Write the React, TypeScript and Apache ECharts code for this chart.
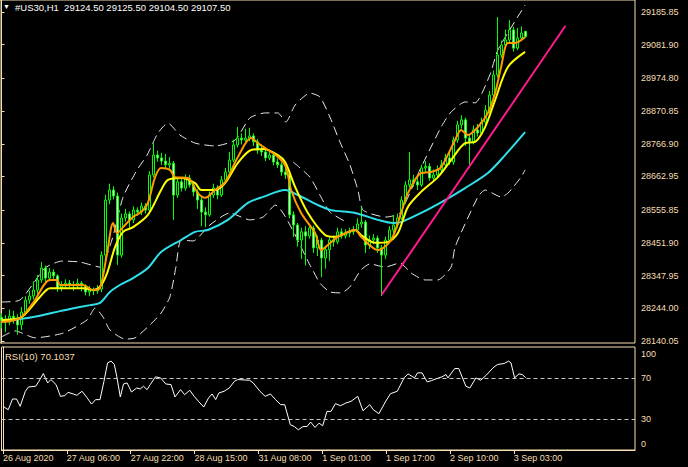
import { useEffect, useRef } from 'react';
import * as echarts from 'echarts';

const symbolName = '#US30,H1';
const rsiName = 'RSI(10)';
const timeLabels = ['26 Aug 2020', '27 Aug 06:00', '27 Aug 22:00', '28 Aug 15:00', '31 Aug 08:00', '1 Sep 01:00', '1 Sep 17:00', '2 Sep 10:00', '3 Sep 03:00'];
const timeLabelBars = [0, 16, 32, 48, 64, 80, 96, 112, 128];
const priceTicks = [28140.05, 28244.0, 28347.95, 28451.9, 28555.85, 28662.95, 28766.9, 28870.85, 28974.8, 29081.9, 29185.85];
const rsiTicks = [0, 30, 70, 100];
const rsiLevels = [70, 30];

const opens = [28215,28207,28200,28219,28213,28191,28232,28270,28283,28302,28334,28372,28340,28359,28347,28308,28315,28324,28318,28315,28324,28315,28296,28302,28299,28305,28413,28588,28620,28601,28413,28531,28544,28525,28556,28550,28569,28556,28668,28731,28722,28712,28700,28705,28604,28646,28626,28658,28636,28614,28588,28550,28541,28604,28626,28604,28652,28677,28715,28763,28785,28779,28785,28792,28773,28747,28741,28722,28731,28709,28700,28677,28668,28541,28509,28461,28487,28474,28499,28436,28461,28404,28430,28461,28455,28487,28474,28483,28487,28493,28512,28518,28445,28461,28467,28436,28413,28461,28493,28509,28531,28588,28636,28652,28646,28636,28690,28695,28658,28668,28684,28700,28722,28709,28779,28827,28843,28785,28773,28811,28801,28836,28874,28922,28986,29049,29081,29097,29129,29071,29103,29124.5];
const highs = [28228,28222,28240,28236,28225,28248,28282,28300,28330,28350,28391,28380,28372,28368,28352,28330,28336,28334,28330,28338,28330,28320,28315,28310,28318,28425,28605,28640,28632,28612,28545,28560,28552,28568,28565,28580,28578,28680,28769,28745,28738,28735,28725,28712,28660,28655,28670,28668,28645,28622,28598,28565,28615,28640,28635,28665,28690,28741,28780,28820,28800,28815,28818,28800,28782,28765,28752,28748,28740,28720,28708,28690,28675,28552,28515,28500,28505,28512,28506,28475,28468,28440,28470,28475,28500,28498,28495,28500,28505,28530,28566,28525,28475,28480,28475,28445,28472,28505,28540,28545,28600,28648,28741,28668,28660,28700,28712,28705,28685,28698,28715,28735,28740,28790,28840,28858,28850,28795,28825,28830,28850,28890,28935,29000,29170,29095,29130,29160,29140,29135,29140,29125.5];
const lows = [28180,28168,28190,28195,28160,28175,28222,28258,28272,28290,28325,28328,28330,28332,28296,28298,28305,28306,28300,28306,28298,28285,28282,28286,28290,28295,28405,28575,28590,28382,28405,28520,28500,28515,28538,28540,28545,28550,28660,28710,28700,28690,28688,28525,28595,28615,28618,28628,28600,28560,28505,28502,28535,28595,28590,28598,28640,28670,28708,28755,28765,28770,28775,28760,28735,28728,28712,28715,28698,28690,28665,28655,28530,28470,28440,28400,28380,28465,28420,28410,28343,28370,28395,28440,28448,28465,28466,28470,28478,28485,28500,28420,28432,28448,28420,28283,28400,28452,28480,28500,28525,28575,28628,28630,28620,28630,28675,28650,28648,28660,28675,28690,28700,28700,28770,28815,28760,28700,28765,28790,28795,28825,28865,28915,28978,29040,29070,29090,29060,29065,29095,29104.5];
const closes = [28207,28200,28219,28213,28191,28232,28270,28283,28302,28334,28372,28340,28359,28347,28308,28315,28324,28318,28315,28324,28315,28296,28302,28299,28305,28413,28588,28620,28601,28413,28531,28544,28525,28556,28550,28569,28556,28668,28731,28722,28712,28700,28705,28604,28646,28626,28658,28636,28614,28588,28550,28541,28604,28626,28604,28652,28677,28715,28763,28785,28779,28785,28792,28773,28747,28741,28722,28731,28709,28700,28677,28668,28541,28509,28461,28487,28474,28499,28436,28461,28404,28430,28461,28455,28487,28474,28483,28487,28493,28512,28518,28445,28461,28467,28436,28413,28461,28493,28509,28531,28588,28636,28652,28646,28636,28690,28695,28658,28668,28684,28700,28722,28709,28779,28827,28843,28785,28773,28811,28801,28836,28874,28922,28986,29049,29081,29097,29129,29071,29103,29119,29107.5];

const orangeBars = [0,4.6,7.9,12.1,13.9,14.6,20.4,22.9,24.6,26.4,27.9,28.9,30.4,32.9,34.9,36.6,38.4,39.9,42.1,43.4,46.6,49.1,50.9,53.4,55.9,59.1,62.4,64.1,69.1,71.1,72.4,74.9,78.4,79.9,81.6,84.1,88.4,89.9,94.1,97.4,99.9,101.6,104.9,107.4,109.9,113.4,114.9,116.6,119.1,121.6,123.4,124.9,126.6,128.4,130.9];
const orangeVals = [28200,28213,28261,28334,28334,28318,28318,28302,28308,28420,28515,28483,28502,28534,28550,28579,28661,28690,28684,28661,28658,28610,28595,28620,28645,28725,28785,28769,28725,28693,28620,28547,28483,28429,28445,28471,28493,28471,28429,28461,28547,28610,28674,28677,28693,28779,28811,28795,28820,28865,28928,29011,29087,29087,29106];
const yellowBars = [0,4.6,9.6,12.1,14.6,20.4,22.9,24.6,26.4,28.4,30.4,32.9,36.6,39.9,41.6,44.9,48.4,49.9,53.4,55.9,59.1,62.4,65.4,69.1,70.9,73.4,76.6,80.9,83.4,88.4,89.9,93.4,96.6,99.1,101.6,104.9,109.1,112.4,115.9,118.4,120.9,123.4,126.6,130.9];
const yellowVals = [28207,28213,28280,28308,28308,28308,28302,28312,28356,28439,28487,28502,28541,28620,28652,28658,28642,28620,28620,28642,28706,28747,28750,28731,28709,28630,28547,28477,28471,28493,28477,28452,28455,28483,28566,28614,28661,28715,28769,28773,28820,28906,29011,29059];
const cyanBars = [0,4.6,9.6,14.6,17.1,22.1,24.6,27.1,29.6,32.9,36.6,39.9,44.9,48.4,51.6,56.6,61.6,65.4,70.9,74.1,79.1,82.4,88.4,94.1,97.9,99.9,104.9,110.9,115.9,121.6,125.9,130.9];
const cyanVals = [28207,28210,28220,28235,28242,28254,28261,28296,28318,28340,28372,28423,28461,28487,28493,28525,28579,28598,28620,28604,28572,28556,28547,28525,28515,28518,28547,28588,28626,28674,28731,28804];

const upperBandBars = [0,4.6,10.9,15.1,19.6,24.6,27.6,30.4,33.9,36.4,39.1,41.6,44.6,48.4,53.4,58.4,62.1,65.9,69.1,71.1,73.4,77.1,79.6,82.1,84.6,87.1,89.1,90.4,96.1,99.6,104.6,109.9,112.4,115.9,118.4,122.1,124.1,130.9];
const upperBandVals = [28264,28270,28372,28394,28391,28375,28461,28598,28684,28731,28801,28833,28795,28769,28760,28779,28849,28865,28865,28836,28890,28928,28916,28852,28773,28700,28620,28556,28534,28547,28684,28820,28868,28900,28897,28986,29065,29208];
const lowerBandBars = [0,3.4,8.4,15.4,21.4,23.4,25.4,27.1,30.9,33.4,37.1,39.9,42.1,43.6,44.9,47.9,52.1,57.1,62.1,65.4,68.4,77.4,79.6,82.1,84.9,87.1,89.9,92.1,95.9,99.6,102.4,105.9,109.1,112.4,113.4,119.1,120.9,124.9,126.6,129.9,130.9];
const lowerBandVals = [28153,28172,28150,28165,28207,28245,28216,28175,28146,28150,28191,28229,28280,28375,28461,28458,28509,28547,28525,28534,28572,28375,28324,28296,28293,28312,28366,28385,28375,28388,28356,28334,28334,28375,28439,28598,28620,28598,28610,28661,28684];
const midBandBars = [72.9, 77.1, 79.6, 82.1, 86.6];
const midBandVals = [28709, 28661, 28604, 28550, 28515];

const trendBars = [95, 141];
const trendVals = [28286, 29142];

const rsiBars = [0,1.3,2.4,3.4,4.3,5.6,6.4,8.2,9.0,10.1,11.2,12.0,13.3,14.4,15.5,16.3,17.6,18.5,19.8,21.0,22.2,23.2,24.3,25.3,26.2,27.1,27.9,28.5,29.4,30.2,31.1,32.2,33.5,34.4,35.2,36.1,36.9,38.2,39.5,40.8,42.1,43.1,44.5,45.5,46.8,47.9,49.0,50.3,51.5,52.4,53.3,54.1,55.4,56.7,58.0,58.8,61.8,62.7,64.4,65.7,67.0,68.3,69.6,70.6,72.0,73.0,74.0,75.2,76.2,77.1,78.2,79.2,80.1,81.2,82.2,83.3,84.6,85.9,87.2,88.9,90.2,91.9,92.8,94.2,95.8,97.1,98.8,100.5,101.5,103.1,103.9,105.0,106.3,107.4,108.7,110.0,111.0,111.5,113.2,114.2,116.0,117.0,118.5,119.7,121.1,122.8,123.9,125.6,126.7,127.3,128.2,129.3,130.1,131];
const rsiVals = [42.4,39.1,49.5,49.5,42.4,57,61.2,61.9,66.7,74.2,65.1,68.4,63.5,52.1,52.8,56,54.4,53.1,57,51.1,44.6,48.9,48.9,66.7,84.6,86.3,83,71.6,51.5,64.1,65.1,56.3,60.2,59.3,61.9,58.6,63.5,71,70,64.1,63.5,51.5,58.6,53.7,58,52.1,47.2,41.7,50.5,54.4,48.9,55.4,57,60.2,66.7,68.4,67.7,65.1,57,52.1,54.4,48.9,44,44,24.5,22.8,19.6,22.8,22.8,27.1,21.9,26.1,23.5,37.5,37.5,45,43,45.6,47.2,52.1,38.1,44,39.1,35.2,46.6,54.7,57,70,73.9,70,74.9,74.9,66.1,67.4,69.3,71,73.3,70,79.1,79.1,61.9,60.2,70,67.7,72.6,79.8,83,84,86.3,84.6,70,73.9,73.3,70.1037];

const FONT = '"Liberation Sans", Arial, sans-serif';
const AXIS = '#f5deb3';
const X_MIN = -0.375;
const X_MAX = 158.375;

const pairs = (xs: number[], ys: number[]) => xs.map((x, i) => [x, ys[i]]);

export default function App() {
  const ref = useRef<HTMLDivElement>(null);
  useEffect(() => {
    const chart = echarts.init(ref.current!, undefined, { renderer: 'svg' });
    const last = closes.length - 1;
    const candles = opens.map((o, i) => [i, o, closes[i], lows[i], highs[i]]);
    const header = `${symbolName}  ${opens[last].toFixed(2)} ${highs[last].toFixed(2)} ${lows[last].toFixed(2)} ${closes[last].toFixed(2)}`;
    const lineSeries = (name: string, xs: number[], ys: number[], color: string, width: number, dashed = false) => ({
      type: 'line', name, xAxisIndex: 0, yAxisIndex: 0, data: pairs(xs, ys), showSymbol: false, symbol: 'none',
      smooth: dashed ? 0.2 : 0.3, z: dashed ? 2 : 4, silent: true,
      lineStyle: { color, width, type: dashed ? [9, 5] : 'solid' },
    });
    const labelStyle = { color: AXIS, fontSize: 9, fontFamily: FONT };
    chart.setOption({
      animation: false,
      backgroundColor: '#000',
      grid: [
        { left: 0, top: 0, width: 635, height: 343, show: true, borderColor: AXIS, borderWidth: 1 },
        { left: 0, top: 347, width: 635, height: 103, show: true, borderColor: AXIS, borderWidth: 1 },
      ],
      xAxis: [
        { type: 'value', gridIndex: 0, min: X_MIN, max: X_MAX, show: false },
        {
          type: 'value', gridIndex: 1, min: X_MIN, max: X_MAX, position: 'bottom',
          axisLine: { show: true, lineStyle: { color: AXIS } },
          axisTick: { show: true, customValues: timeLabelBars, length: 4, lineStyle: { color: AXIS } },
          axisLabel: {
            ...labelStyle, customValues: timeLabelBars, align: 'left', margin: 3,
            formatter: (v: number) => timeLabels[timeLabelBars.indexOf(Math.round(v))] ?? '',
          },
          splitLine: { show: false },
        },
      ],
      yAxis: [
        {
          type: 'value', gridIndex: 0, position: 'right', min: 28133.6, max: 29224.0,
          axisLine: { show: true, lineStyle: { color: AXIS } },
          axisTick: { show: true, customValues: priceTicks, length: 3, lineStyle: { color: AXIS } },
          axisLabel: { ...labelStyle, customValues: priceTicks, margin: 6, showMinLabel: true, showMaxLabel: true, formatter: (v: number) => v.toFixed(2) },
          splitLine: { show: false },
        },
        {
          type: 'value', gridIndex: 1, position: 'right', min: 0, max: 100,
          axisLine: { show: true, lineStyle: { color: AXIS } },
          axisTick: { show: false },
          axisLabel: {
            ...labelStyle, customValues: rsiTicks, margin: 6, showMinLabel: true, showMaxLabel: true,
            formatter: (v: number) => (v === 100 ? `{t|${v}}` : v === 0 ? `{b|${v}}` : `{m|${v}}`),
            rich: {
              t: { ...labelStyle, padding: [14, 0, 0, 0] },
              b: { ...labelStyle, padding: [0, 0, 12, 0] },
              m: { ...labelStyle },
            },
          },
          splitLine: { show: false },
        },
      ],
      series: [
        lineSeries('upper', upperBandBars, upperBandVals, '#e8e8e8', 1, true),
        lineSeries('lower', lowerBandBars, lowerBandVals, '#e8e8e8', 1, true),
        lineSeries('mid', midBandBars, midBandVals, '#e8e8e8', 1, true),
        {
          type: 'candlestick', xAxisIndex: 0, yAxisIndex: 0, data: candles, encode: { x: 0, y: [1, 2, 3, 4] },
          barWidth: 3, z: 3, silent: true,
          itemStyle: { color: '#000', color0: '#eaffea', borderColor: '#00ff00', borderColor0: '#00ff00', borderWidth: 1 },
          markLine: {
            silent: true, symbol: 'none', data: [{ yAxis: closes[last] }],
            lineStyle: { opacity: 0 },
            label: {
              position: 'end', distance: 2, formatter: closes[last].toFixed(2), color: '#000', backgroundColor: '#f7dfb2',
              fontSize: 9, fontFamily: FONT, padding: [2, 2, 1, 2],
            },
          },
        },
        lineSeries('cyan', cyanBars, cyanVals, '#2fe0ea', 2),
        lineSeries('yellow', yellowBars, yellowVals, '#ffff00', 2),
        lineSeries('orange', orangeBars, orangeVals, '#ff9a00', 2),
        {
          type: 'line', xAxisIndex: 0, yAxisIndex: 0, data: pairs(trendBars, trendVals), showSymbol: false, symbol: 'none', z: 5,
          lineStyle: { color: '#ff1a8c', width: 2 }, silent: true,
        },
        {
          type: 'line', xAxisIndex: 1, yAxisIndex: 1, data: pairs(rsiBars, rsiVals), showSymbol: false, symbol: 'none',
          lineStyle: { color: '#ffffff', width: 1 }, silent: true,
          markLine: {
            silent: true, symbol: 'none', label: { show: false },
            lineStyle: { color: '#c8c8c8', type: [4, 3], width: 1 },
            data: rsiLevels.map((v) => ({ yAxis: v })),
          },
        },
      ],
      graphic: [
        { type: 'text', left: 3, top: 3, style: { text: '▼', fill: '#ffffff', fontSize: 7, fontFamily: FONT } },
        { type: 'text', left: 15, top: 2, style: { text: header, fill: '#ffffff', fontSize: 9.5, fontFamily: FONT } },
        { type: 'text', left: 5, top: 351, style: { text: `${rsiName} ${rsiVals[rsiVals.length - 1].toFixed(4)}`, fill: AXIS, fontSize: 9.5, fontFamily: FONT } },
      ],
    });
    return () => chart.dispose();
  }, []);
  return <div ref={ref} style={{ position: 'fixed', left: 0, top: 0, width: 688, height: 467, background: '#000' }} />;
}
